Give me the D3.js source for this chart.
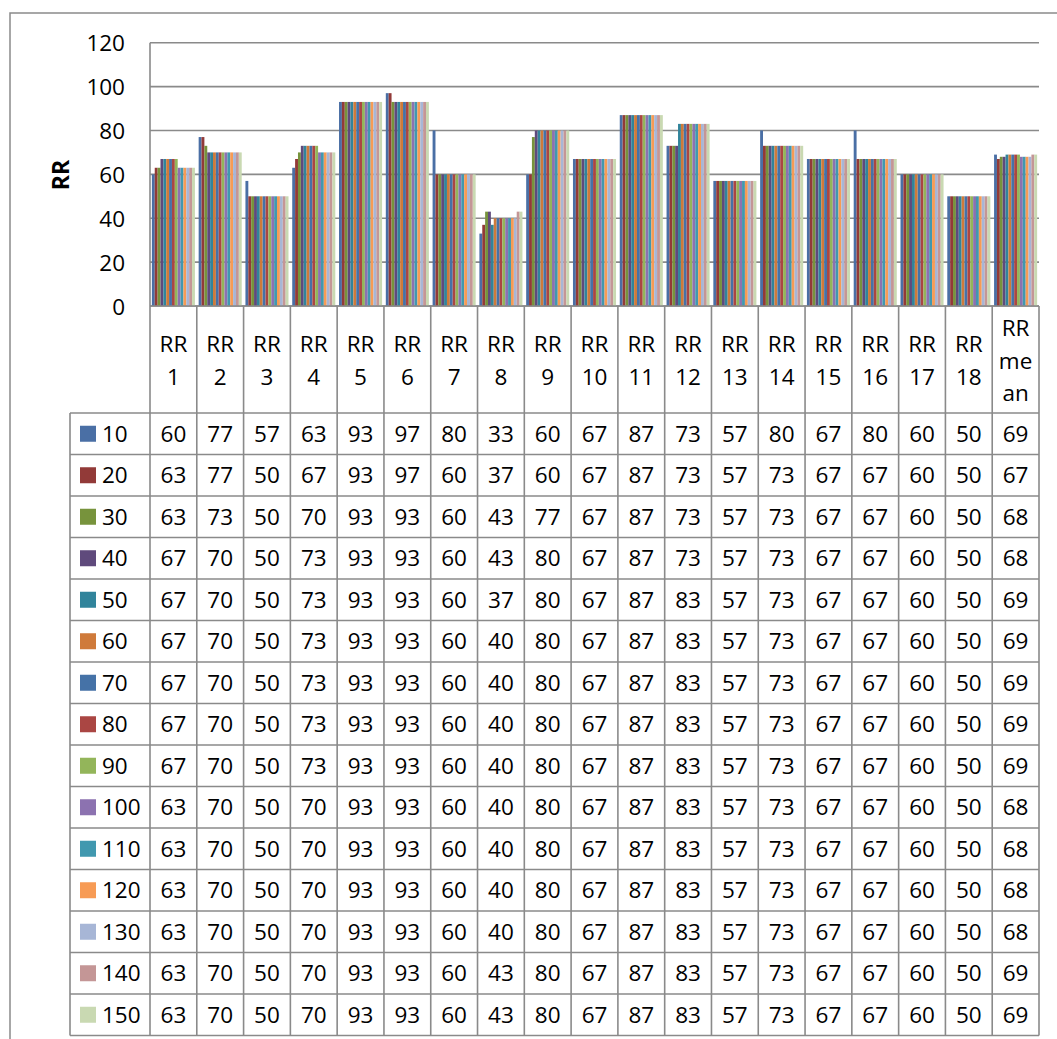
<!DOCTYPE html>
<html>
<head>
<meta charset="utf-8">
<script src="https://d3js.org/d3.v7.min.js"></script>
<style>
  html, body { margin: 0; padding: 0; background: #fff; }
  svg { display: block; }
  text { font-family: "Open Sans", Lato, sans-serif; fill: #000; }
</style>
</head>
<body>
<script>
// Categories along the x axis (header row of the data table)
const categories = ["RR 1","RR 2","RR 3","RR 4","RR 5","RR 6","RR 7","RR 8","RR 9","RR 10",
                    "RR 11","RR 12","RR 13","RR 14","RR 15","RR 16","RR 17","RR 18","RR mean"];
// Header labels as they wrap inside each narrow table column
const headerLines = [["RR","1"],["RR","2"],["RR","3"],["RR","4"],["RR","5"],["RR","6"],["RR","7"],
                     ["RR","8"],["RR","9"],["RR","10"],["RR","11"],["RR","12"],["RR","13"],["RR","14"],
                     ["RR","15"],["RR","16"],["RR","17"],["RR","18"],["RR","me","an"]];

// Series names (legend keys) and their colours
const seriesNames = ["10","20","30","40","50","60","70","80","90","100","110","120","130","140","150"];
const seriesColors = ["#4a6fa5","#923a38","#77933c","#5f4a7c","#31849b","#cf7a3a","#4572a7","#aa4643",
                      "#93b55a","#8c72b0","#4198af","#f79b55","#a7b6d6","#c49696","#c9d9b2"];

// One array per series: RR 1 .. RR 18, RR mean
const s10  = [60,77,57,63,93,97,80,33,60,67,87,73,57,80,67,80,60,50,69];
const s20  = [63,77,50,67,93,97,60,37,60,67,87,73,57,73,67,67,60,50,67];
const s30  = [63,73,50,70,93,93,60,43,77,67,87,73,57,73,67,67,60,50,68];
const s40  = [67,70,50,73,93,93,60,43,80,67,87,73,57,73,67,67,60,50,68];
const s50  = [67,70,50,73,93,93,60,37,80,67,87,83,57,73,67,67,60,50,69];
const s60  = [67,70,50,73,93,93,60,40,80,67,87,83,57,73,67,67,60,50,69];
const s70  = [67,70,50,73,93,93,60,40,80,67,87,83,57,73,67,67,60,50,69];
const s80  = [67,70,50,73,93,93,60,40,80,67,87,83,57,73,67,67,60,50,69];
const s90  = [67,70,50,73,93,93,60,40,80,67,87,83,57,73,67,67,60,50,69];
const s100 = [63,70,50,70,93,93,60,40,80,67,87,83,57,73,67,67,60,50,68];
const s110 = [63,70,50,70,93,93,60,40,80,67,87,83,57,73,67,67,60,50,68];
const s120 = [63,70,50,70,93,93,60,40,80,67,87,83,57,73,67,67,60,50,68];
const s130 = [63,70,50,70,93,93,60,40,80,67,87,83,57,73,67,67,60,50,68];
const s140 = [63,70,50,70,93,93,60,43,80,67,87,83,57,73,67,67,60,50,69];
const s150 = [63,70,50,70,93,93,60,43,80,67,87,83,57,73,67,67,60,50,69];

const yTicks = [0,20,40,60,80,100,120];
const yTitle = "RR";

const seriesValues = [s10,s20,s30,s40,s50,s60,s70,s80,s90,s100,s110,s120,s130,s140,s150];
const series = seriesNames.map((name, i) => ({ name, color: seriesColors[i], values: seriesValues[i] }));

const W = 1057, H = 1039;
const FS = 22.5;
const svg = d3.select("body").append("svg").attr("width", W).attr("height", H);

const plotLeft = 150, plotRight = 1039, plotTop = 42.7, plotBottom = 306;
const legendLeft = 70;
const headerBottom = 413, rowH = 41.5;
const lineCol = "#8a8a8a";

// Chart area frame
svg.append("rect").attr("x", 10).attr("y", 13).attr("width", W + 20).attr("height", H + 20)
   .attr("fill", "#fff").attr("stroke", lineCol).attr("stroke-width", 1.5);

const x = d3.scaleBand().domain(categories).range([plotLeft, plotRight]).padding(0);
const xs = d3.scaleBand().domain(seriesNames).range([0, x.bandwidth()]).paddingInner(0).paddingOuter(0.65);
const y = d3.scaleLinear().domain([0, 120]).range([plotBottom, plotTop]);

// Horizontal gridlines
svg.append("g").selectAll("line").data(yTicks).join("line")
   .attr("x1", plotLeft).attr("x2", plotRight)
   .attr("y1", d => y(d)).attr("y2", d => y(d))
   .attr("stroke", lineCol).attr("stroke-width", 1.6);

// Clustered bars
const groups = svg.append("g").selectAll("g").data(categories).join("g")
   .attr("transform", c => `translate(${x(c)},0)`);
groups.selectAll("rect")
   .data((c, ci) => series.map(s => ({ s, v: s.values[ci] })))
   .join("rect")
   .attr("x", d => xs(d.s.name))
   .attr("width", xs.bandwidth())
   .attr("y", d => y(d.v))
   .attr("height", d => y(0) - y(d.v))
   .attr("fill", d => d.s.color);

// Value axis labels
const yAxis = d3.axisLeft(y).tickValues(yTicks).tickSize(0).tickPadding(0);
const yg = svg.append("g").attr("transform", `translate(125,0)`).call(yAxis);
yg.select(".domain").remove();
yg.selectAll("text").attr("font-size", FS).attr("font-family", "'Open Sans', Lato, sans-serif")
  .attr("fill", "#000").attr("dy", "0.36em");

// Vertical axis line
svg.append("line").attr("x1", plotLeft).attr("x2", plotLeft).attr("y1", plotTop).attr("y2", plotBottom)
   .attr("stroke", lineCol).attr("stroke-width", 1.6);

// Axis title
svg.append("text").attr("transform", "translate(68.5,175) rotate(-90)")
   .attr("text-anchor", "middle").attr("font-size", 23).attr("font-weight", 700).text(yTitle);

// ---- Data table ----
const tableBottom = headerBottom + rowH * series.length;
const tbl = svg.append("g");

// header labels
categories.forEach((c, i) => {
  const lines = headerLines[i];
  const cx = x(c) + x.bandwidth() / 2;
  const lh = 32.5;
  const mid = (plotBottom + headerBottom) / 2 + 1;
  lines.forEach((ln, j) => {
    tbl.append("text").attr("x", cx)
       .attr("y", mid + (j - (lines.length - 1) / 2) * lh + 8)
       .attr("text-anchor", "middle").attr("font-size", FS).text(ln);
  });
});

// rows
series.forEach((s, r) => {
  const cy = headerBottom + rowH * r + rowH / 2;
  tbl.append("rect").attr("x", 80).attr("y", cy - 8).attr("width", 16).attr("height", 16).attr("fill", s.color);
  tbl.append("text").attr("x", 102).attr("y", cy + 8).attr("font-size", FS).text(s.name);
  categories.forEach((c, ci) => {
    tbl.append("text").attr("x", x(c) + x.bandwidth() / 2).attr("y", cy + 8)
       .attr("text-anchor", "middle").attr("font-size", FS).text(s.values[ci]);
  });
});

// grid lines of the table
const hLines = d3.range(series.length + 1).map(r => headerBottom + r * rowH);
tbl.selectAll("line.h").data(hLines).join("line").attr("class", "h")
   .attr("x1", legendLeft).attr("x2", plotRight).attr("y1", d => d).attr("y2", d => d)
   .attr("stroke", lineCol).attr("stroke-width", 1.6);
const vLines = categories.map(c => x(c)).concat([plotRight]);
tbl.selectAll("line.v").data(vLines).join("line").attr("class", "v")
   .attr("x1", d => d).attr("x2", d => d).attr("y1", plotBottom).attr("y2", tableBottom)
   .attr("stroke", lineCol).attr("stroke-width", 1.6);
tbl.append("line").attr("x1", legendLeft).attr("x2", legendLeft).attr("y1", headerBottom).attr("y2", tableBottom)
   .attr("stroke", lineCol).attr("stroke-width", 1.6);
tbl.append("line").attr("x1", plotLeft).attr("x2", plotRight).attr("y1", plotBottom).attr("y2", plotBottom)
   .attr("stroke", lineCol).attr("stroke-width", 1.6);
</script>
</body>
</html>
